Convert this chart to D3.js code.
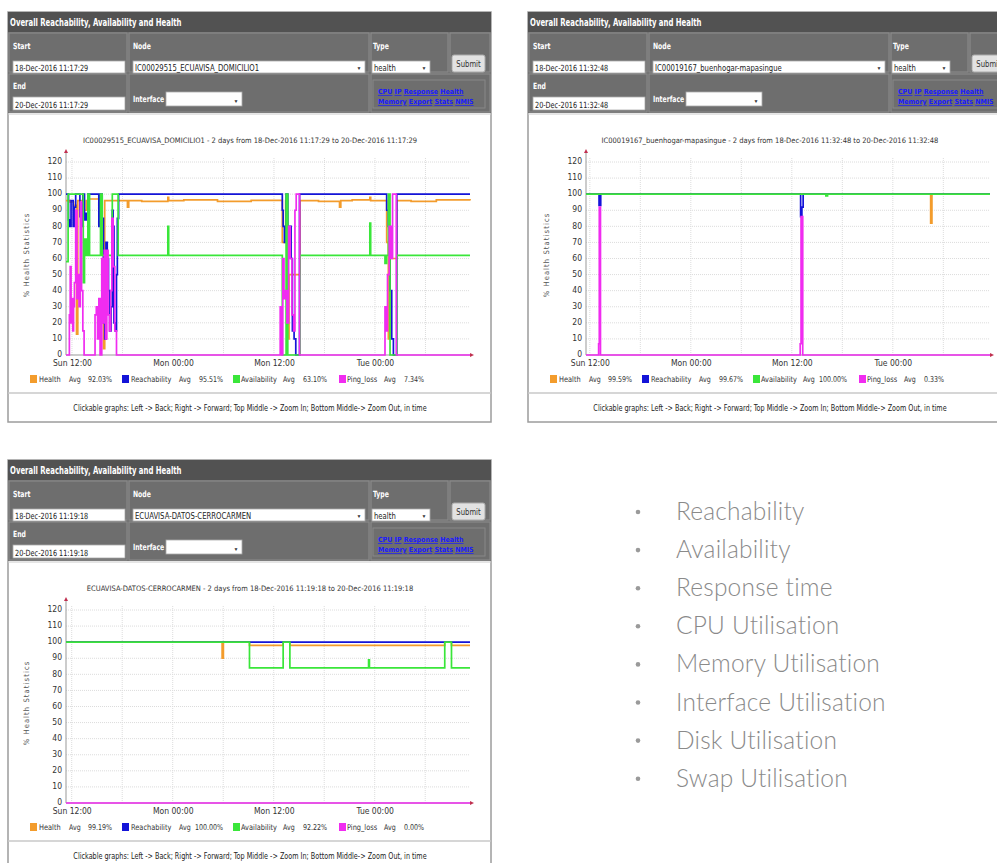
<!DOCTYPE html>
<html>
<head>
<meta charset="utf-8">
<script src="https://cdn.jsdelivr.net/npm/d3@7"></script>
<style>
body { margin: 0; background: #fff; }
</style>
</head>
<body>
<svg id="page"></svg>
<script>
// --- data ---
var seriesNames = ['Health', 'Reachability', 'Availability', 'Ping_loss'];
var yTicks = [0, 10, 20, 30, 40, 50, 60, 70, 80, 90, 100, 110, 120];

// panel 1 : IC00029515_ECUAVISA_DOMICILIO1  ([hours from start, %])
var p1Node = 'IC00029515_ECUAVISA_DOMICILIO1';
var p1Start = '18-Dec-2016 11:17:29';
var p1End = '20-Dec-2016 11:17:29';
var p1Avg = ['92.03%', '95.51%', '63.10%', '7.34%'];
var p1Health = [[0,96],[0.5,95],[0.9,93],[1.25,13],[1.4,96],[2.2,90],[2.45,96],[2.65,97],[4.3,65],[4.45,4],
  [4.6,96],[7.3,92],[7.45,96],[9,95.5],[12.1,98],[12.2,96],[14,96.5],[18,95.5],[22,96.2],[25.7,70],[26.1,96],
  [26.3,10],[26.5,50],[27.8,96],[30,95.5],[32.5,92],[32.65,96],[34,96.5],[36.1,98],[36.2,96],[38.1,70],[38.3,10],
  [38.5,60],[39.3,96],[41,95.5],[44,96.5],[48,96]];
var p1Reach = [[0,100],[0.3,84],[0.45,80],[0.6,96],[0.85,80],[1.0,92],[1.15,100],[1.65,86],[1.8,80],[2.0,100],
  [2.2,84],[2.4,88],[2.6,100],[3.9,80],[4.1,100],[4.3,85],[4.45,20],[4.6,10],[4.75,70],[4.9,60],[5.05,40],[5.2,15],
  [5.35,30],[5.5,90],[5.6,80],[5.7,20],[5.85,15],[6.0,50],[6.1,85],[6.25,100],[25.7,90],[25.8,80],[25.95,70],
  [26.15,100],[26.35,80],[26.6,80],[26.75,60],[26.9,15],[27.1,10],[27.3,0],[27.75,100],[38.1,90],[38.3,80],
  [38.5,40],[38.7,10],[38.9,0],[39.3,100],[48,100]];
var p1Avail = [[0,58],[0.25,100],[1.9,100],[2.05,45],[2.2,72],[2.4,62],[2.6,100],[2.8,62],[4.1,100],[4.3,62],
  [5.5,100],[6.2,62],[12.1,80],[12.2,62],[25.7,0],[26.15,100],[26.35,0],[27.8,62],[36.1,82],[36.2,62],[37.9,57],
  [38.1,62],[38.3,100],[38.5,0],[39.3,62],[48,62]];
var p1Ping = [[0,0],[0.4,25],[0.5,55],[0.6,20],[0.7,35],[0.8,15],[0.9,30],[1.0,45],[1.15,90],[1.3,35],[1.45,50],
  [1.55,30],[1.7,95],[1.85,40],[2.0,15],[2.15,0],[3.45,25],[3.6,30],[3.75,10],[3.9,35],[4.05,0],[4.25,60],[4.4,20],
  [4.55,65],[4.7,10],[4.85,65],[5.0,25],[5.15,15],[5.3,40],[5.45,85],[5.6,55],[5.8,15],[6.0,0],[25.45,30],[25.6,0],
  [25.75,60],[25.9,35],[26.05,40],[26.25,20],[26.45,80],[26.65,60],[26.85,25],[27.05,15],[27.2,90],[27.35,100],
  [27.75,0],[37.9,30],[38.05,15],[38.2,50],[38.4,80],[38.6,60],[38.8,100],[39.25,0],[48,0]];

// panel 2 : IC00019167_buenhogar-mapasingue
var p2Node = 'IC00019167_buenhogar-mapasingue';
var p2Start = '18-Dec-2016 11:32:48';
var p2End = '20-Dec-2016 11:32:48';
var p2Avg = ['99.59%', '99.67%', '100.00%', '0.33%'];
var p2Health = [[0,100],[40.95,82],[41.1,100],[48,100]];
var p2Reach = [[0,100],[1.55,93],[1.75,100],[25.5,86],[25.65,92],[25.8,100],[48,100]];
var p2Avail = [[0,100],[28.5,99],[28.7,100],[48,100]];
var p2Ping = [[0,0],[1.5,7],[1.58,92],[1.72,0],[25.45,7],[25.55,86],[25.75,0],[48,0]];

// panel 3 : ECUAVISA-DATOS-CERROCARMEN
var p3Node = 'ECUAVISA-DATOS-CERROCARMEN';
var p3Start = '18-Dec-2016 11:19:18';
var p3End = '20-Dec-2016 11:19:18';
var p3Avg = ['99.19%', '100.00%', '92.22%', '0.00%'];
var p3Health = [[0,100],[18.55,90],[18.7,100],[21.8,98],[25.8,100],[26.6,98],[45,100],[45.8,98],[48,98]];
var p3Reach = [[0,100],[48,100]];
var p3Avail = [[0,100],[21.8,84],[25.8,100],[26.6,84],[35.95,89],[36.05,84],[45,100],[45.8,84],[48,84]];
var p3Ping = [[0,0],[48,0]];

var bulletItems = ['Reachability', 'Availability', 'Response time', 'CPU Utilisation', 'Memory Utilisation',
  'Interface Utilisation', 'Disk Utilisation', 'Swap Utilisation'];

// --- drawing ---
var seriesColors = ['#f39c2c', '#1414d8', '#3ae63a', '#f02cf0'];
var rrdFont = '"DejaVu Sans Condensed", "DejaVu Sans", sans-serif';
var parseStamp = d3.timeParse('%d-%b-%Y %H:%M:%S');

var svg = d3.select('#page').attr('width', 997).attr('height', 863);

// narrow text: no narrow face installed, so squeeze the condensed one horizontally
function ntext(g, x, y, str, font, sx, anchor) {
    return g.append('text').attr('transform', 'translate(' + x + ',' + y + ') scale(' + sx + ',1)')
        .attr('text-anchor', anchor || 'start').text(str).style('font', font);
}

function drawPanel(ox, oy, node, start, end, avgs, series) {
    var g = svg.append('g').attr('transform', 'translate(' + ox + ',' + oy + ')');

    // frame and header
    g.append('rect').attr('x', 8).attr('y', 12).attr('width', 483).attr('height', 410)
        .attr('fill', '#fff').attr('stroke', '#9c9c9c').attr('stroke-width', 1.5);
    g.append('rect').attr('x', 8).attr('y', 12).attr('width', 483).attr('height', 20).attr('fill', '#525252');
    ntext(g, 10, 26, 'Overall Reachability, Availability and Health', 'bold 10px ' + rrdFont, 0.77)
        .attr('fill', '#fff');
    g.append('rect').attr('x', 8).attr('y', 32).attr('width', 483).attr('height', 81).attr('fill', '#6e6e6e');

    var cells = [[8, 32, 120, 41], [128, 32, 242, 41], [370, 32, 79, 41], [449, 32, 42, 41],
                 [8, 73, 120, 40], [128, 73, 242, 40], [370, 73, 121, 40]];
    g.selectAll('rect.cell').data(cells).enter().append('rect').attr('class', 'cell')
        .attr('x', function(d) { return d[0] + 1; }).attr('y', function(d) { return d[1] + 1; })
        .attr('width', function(d) { return d[2] - 2; }).attr('height', function(d) { return d[3] - 2; })
        .attr('fill', 'none').attr('stroke', '#8d8d8d');

    var labels = [['Start', 13, 49], ['Node', 133, 49], ['Type', 373, 49], ['End', 13, 89], ['Interface', 133, 102]];
    labels.forEach(function(d) {
        ntext(g, d[1], d[2], d[0], 'bold 8.5px ' + rrdFont, 0.8).attr('fill', '#fff');
    });

    var boxes = [[13, 61, 112, 12, start, false], [133, 61, 232, 12, node, true], [372, 61, 58, 12, 'health', true],
                 [13, 97, 112, 13, end, false], [166, 92, 76, 14, '', true]];
    boxes.forEach(function(b) {
        g.append('rect').attr('x', b[0]).attr('y', b[1]).attr('width', b[2]).attr('height', b[3])
            .attr('fill', '#fff').attr('stroke', '#aaa').attr('stroke-width', 0.8);
        ntext(g, b[0] + 2, b[1] + b[3] - 2.5, b[4], '8.5px ' + rrdFont, b[5] ? 0.9 : 0.85).attr('fill', '#222');
        if (b[5]) {
            g.append('text').attr('x', b[0] + b[2] - 6).attr('y', b[1] + b[3] - 3.5).text('\u25BC')
                .attr('fill', '#333').attr('text-anchor', 'middle').style('font', '5px sans-serif');
        }
    });
    g.append('rect').attr('x', 452).attr('y', 55).attr('width', 33).attr('height', 17).attr('rx', 2)
        .attr('fill', '#e2e2e2').attr('stroke', '#aaa');
    ntext(g, 468.5, 66.5, 'Submit', '9px ' + rrdFont, 0.85, 'middle').attr('fill', '#333');

    g.append('rect').attr('x', 373).attr('y', 80).attr('width', 112).attr('height', 28)
        .attr('fill', 'none').attr('stroke', '#888');
    var linkRows = [['CPU', 'IP', 'Response', 'Health'], ['Memory', 'Export', 'Stats', 'NMIS']];
    linkRows.forEach(function(row, i) {
        var t = g.append('text').attr('x', 378).attr('y', 94 + i * 10)
            .attr('fill', '#1a1aff').style('font', 'bold 7px ' + rrdFont);
        row.forEach(function(w, j) {
            if (j > 0) t.append('tspan').text(' ');
            t.append('tspan').text(w).style('text-decoration', 'underline');
        });
    });
    g.append('line').attr('x1', 8).attr('x2', 491).attr('y1', 114).attr('y2', 114).attr('stroke', '#ccc');

    // chart
    var t0 = parseStamp(start);
    var x = d3.scaleTime().domain([t0, d3.timeHour.offset(t0, 48)]).range([66, 470]);
    var y = d3.scaleLinear().domain([0, 120]).range([355, 162]);
    var at = function(h) { return d3.timeSecond.offset(t0, Math.round(h * 3600)); };

    g.append('text').attr('x', 250).attr('y', 143).attr('text-anchor', 'middle')
        .text(node + ' - 2 days from ' + start + ' to ' + end)
        .attr('fill', '#333').style('font', '7.5px ' + rrdFont);

    // grid
    g.append('g').selectAll('line').data(d3.timeHour.every(6).range(x.domain()[0], x.domain()[1]))
        .enter().append('line')
        .attr('x1', function(d) { return x(d); }).attr('x2', function(d) { return x(d); })
        .attr('y1', 355).attr('y2', 158)
        .attr('stroke', '#dcdcdc').attr('stroke-dasharray', '1,1');
    g.append('g').selectAll('line').data(yTicks.slice(1)).enter().append('line')
        .attr('x1', 66).attr('x2', 470)
        .attr('y1', function(d) { return y(d); }).attr('y2', function(d) { return y(d); })
        .attr('stroke', '#dcdcdc').attr('stroke-dasharray', '1,1');

    var yAxis = g.append('g').attr('transform', 'translate(62,-1)')
        .call(d3.axisLeft(y).tickValues(yTicks).tickSize(0).tickPadding(0));
    yAxis.select('.domain').remove();
    yAxis.selectAll('text').attr('fill', '#333').style('font', '8.5px ' + rrdFont);

    var xAxis = g.append('g').attr('transform', 'translate(0,360)')
        .call(d3.axisBottom(x).ticks(d3.timeHour.every(12)).tickFormat(d3.timeFormat('%a %H:%M'))
            .tickSize(0).tickPadding(0));
    xAxis.select('.domain').remove();
    xAxis.selectAll('text').attr('fill', '#333').style('font', '8.5px ' + rrdFont);

    g.append('text').attr('transform', 'translate(29,255) rotate(-90)').attr('text-anchor', 'middle')
        .text('% Health Statistics').attr('fill', '#555')
        .style('font', '7.5px ' + rrdFont).style('letter-spacing', '1.1px');

    // axes with arrows
    g.append('line').attr('x1', 66).attr('x2', 472).attr('y1', 355).attr('y2', 355).attr('stroke', '#999');
    g.append('line').attr('x1', 66).attr('x2', 66).attr('y1', 355).attr('y2', 152).attr('stroke', '#999');
    g.append('path').attr('d', 'M470,353 L474,355 L470,357 Z').attr('fill', '#c03050');
    g.append('path').attr('d', 'M64,153 L66,149 L68,153 Z').attr('fill', '#c03050');

    var line = d3.line().curve(d3.curveStepAfter)
        .x(function(d) { return x(at(d[0])); })
        .y(function(d) { return y(d[1]); });
    series.forEach(function(s, i) {
        g.append('path').datum(s).attr('d', line).attr('fill', 'none')
            .attr('stroke', seriesColors[i]).attr('stroke-width', 1.7);
    });

    // legend: square, name, "Avg", right-aligned value
    var legX = [[30, 39, 69, 112], [122, 131, 179, 223], [233, 241, 283, 327], [339, 347, 384, 424]];
    seriesNames.forEach(function(n, i) {
        g.append('rect').attr('x', legX[i][0]).attr('y', 375).attr('width', 7).attr('height', 8)
            .attr('fill', seriesColors[i]);
        ntext(g, legX[i][1], 382, n, '8px ' + rrdFont, 0.92).attr('fill', '#333');
        ntext(g, legX[i][2], 382, 'Avg', '8px ' + rrdFont, 0.88).attr('fill', '#333');
        ntext(g, legX[i][3], 382, avgs[i], '8px ' + rrdFont, 0.88, 'end').attr('fill', '#333');
    });

    g.append('line').attr('x1', 8).attr('x2', 491).attr('y1', 393).attr('y2', 393)
        .attr('stroke', '#c8c8c8').attr('stroke-width', 1.5);
    ntext(g, 250, 411,
        'Clickable graphs: Left -> Back; Right -> Forward; Top Middle -> Zoom In; Bottom Middle-> Zoom Out, in time',
        '9px ' + rrdFont, 0.8, 'middle').attr('fill', '#222');
}

drawPanel(0, 0, p1Node, p1Start, p1End, p1Avg, [p1Health, p1Reach, p1Avail, p1Ping]);
drawPanel(520, 0, p2Node, p2Start, p2End, p2Avg, [p2Health, p2Reach, p2Avail, p2Ping]);
drawPanel(0, 448, p3Node, p3Start, p3End, p3Avg, [p3Health, p3Reach, p3Avail, p3Ping]);

// bullet list
var bl = svg.append('g');
bulletItems.forEach(function(item, i) {
    var by = 520 + i * 38.1;
    bl.append('circle').attr('cx', 638).attr('cy', by - 8).attr('r', 2.3).attr('fill', '#9a9a9a');
    bl.append('text').attr('x', 676).attr('y', by).text(item)
        .attr('fill', '#8a8a8a').style('font', '300 24.5px Lato, "Open Sans", sans-serif')
        .style('letter-spacing', '0.2px');
});
</script>
</body>
</html>
